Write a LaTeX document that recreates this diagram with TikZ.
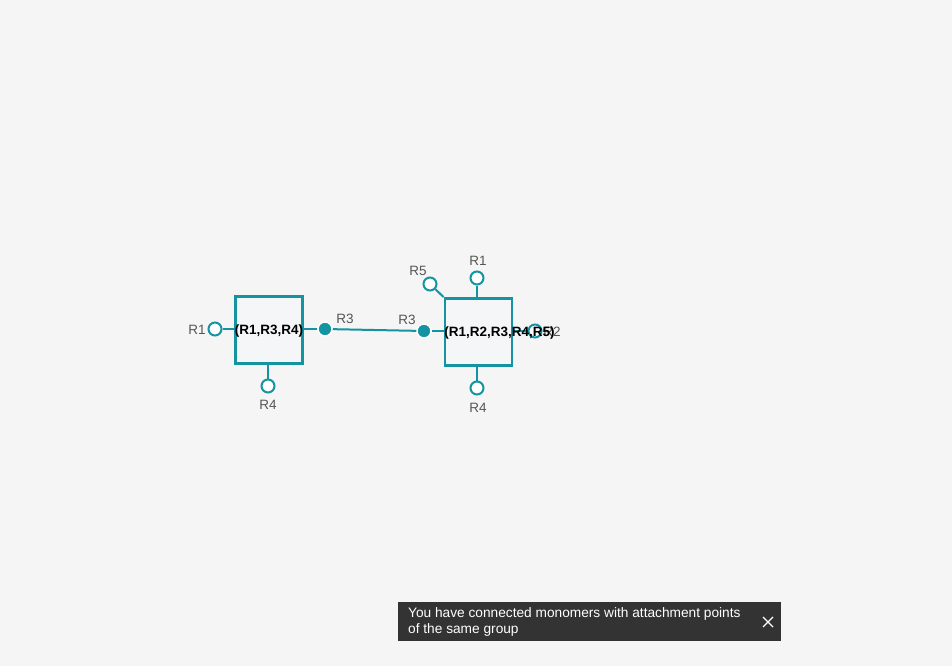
\documentclass[tikz,border=0pt]{standalone}
\usepackage{fontspec}
\setmainfont{Liberation Sans}
\definecolor{teal}{RGB}{20,148,160}
\definecolor{bg}{RGB}{245,245,245}
\definecolor{boxfill}{RGB}{244,246,248}
\definecolor{lab}{RGB}{85,85,85}
\definecolor{toast}{RGB}{51,51,51}
\tikzset{
  monomer/.style={draw=teal, line width=2.8pt, fill=boxfill, minimum size=67pt, inner sep=0pt},
  monotext/.style={anchor=west, inner sep=0pt, font=\fontsize{13.5}{15}\selectfont\bfseries, text=black},
  apopen/.style={circle, draw=teal, line width=2pt, fill=white, minimum size=13pt, inner sep=0pt},
  apused/.style={circle, draw=white, line width=1.5pt, fill=teal, minimum size=14pt, inner sep=0pt},
  aplabel/.style={inner sep=0pt, font=\fontsize{13.5}{15}\selectfont, text=lab},
  bond/.style={draw=teal, line width=2pt}
}
\begin{document}
\begin{tikzpicture}[x=1pt, y=-1pt]

\fill[bg] (0,0) rectangle (952,666);
\useasboundingbox (0,0) rectangle (952,666);

% left monomer
\node[monomer] (boxA) at (269,330) {};
\node[apopen] (a1) at (215,329) {};
\node[apused] (a3) at (325,329) {};
\node[apopen] (a4) at (268,386) {};
\node[aplabel] (la1) at (197,330) {R1};
\node[aplabel] (la3) at (345,319) {R3};
\node[aplabel] (la4) at (268,405) {R4};
\draw[bond] (a1) -- (a1 -| boxA.west);
\draw[bond] (a3) -- (a3 -| boxA.east);
\draw[bond] (a4) -- (a4 |- boxA.south);

% right monomer
\node[monomer] (boxB) at (478.5,332) {};
\node[apopen] (b1) at (477,278) {};
\node[apopen] (b2) at (535,331) {};
\node[apused] (b3) at (424,331) {};
\node[apopen] (b4) at (477,388) {};
\node[apopen] (b5) at (430,284) {};
\node[aplabel] (lb1) at (478,261) {R1};
\node[aplabel] (lb2) at (552,332) {R2};
\node[aplabel] (lb3) at (407,320) {R3};
\node[aplabel] (lb4) at (478,408) {R4};
\node[aplabel] (lb5) at (418,271) {R5};
\draw[bond] (b1) -- (b1 |- boxB.north);
\draw[bond] (b2) -- (b2 -| boxB.east);
\draw[bond] (b3) -- (b3 -| boxB.west);
\draw[bond] (b4) -- (b4 |- boxB.south);
\draw[bond] (b5) -- (boxB.north west);

% connection
\draw[bond] (a3) -- (b3);

\node[monotext] at ([shift={(0.5,1.5)}]boxA.west) {(R1,R3,R4)};
\node[monotext] at ([shift={(0.5,1.5)}]boxB.west) {(R1,R2,R3,R4,R5)};

% message
\node[fill=toast, minimum width=383pt, minimum height=39pt, inner sep=0pt] (msg) at (589.5,621.5) {};
\node[anchor=north west, inner sep=0pt, align=left, text=white, font=\fontsize{13.7}{16}\selectfont] (msgtext) at (408,607) {You have connected monomers with attachment points\\of the same group};
\node (close) at (768,622) {};
\draw[white, line width=1.2pt] ([shift={(-5,-5)}]close.center) -- ([shift={(5,5)}]close.center)
  ([shift={(-5,5)}]close.center) -- ([shift={(5,-5)}]close.center);

\end{tikzpicture}
\end{document}
